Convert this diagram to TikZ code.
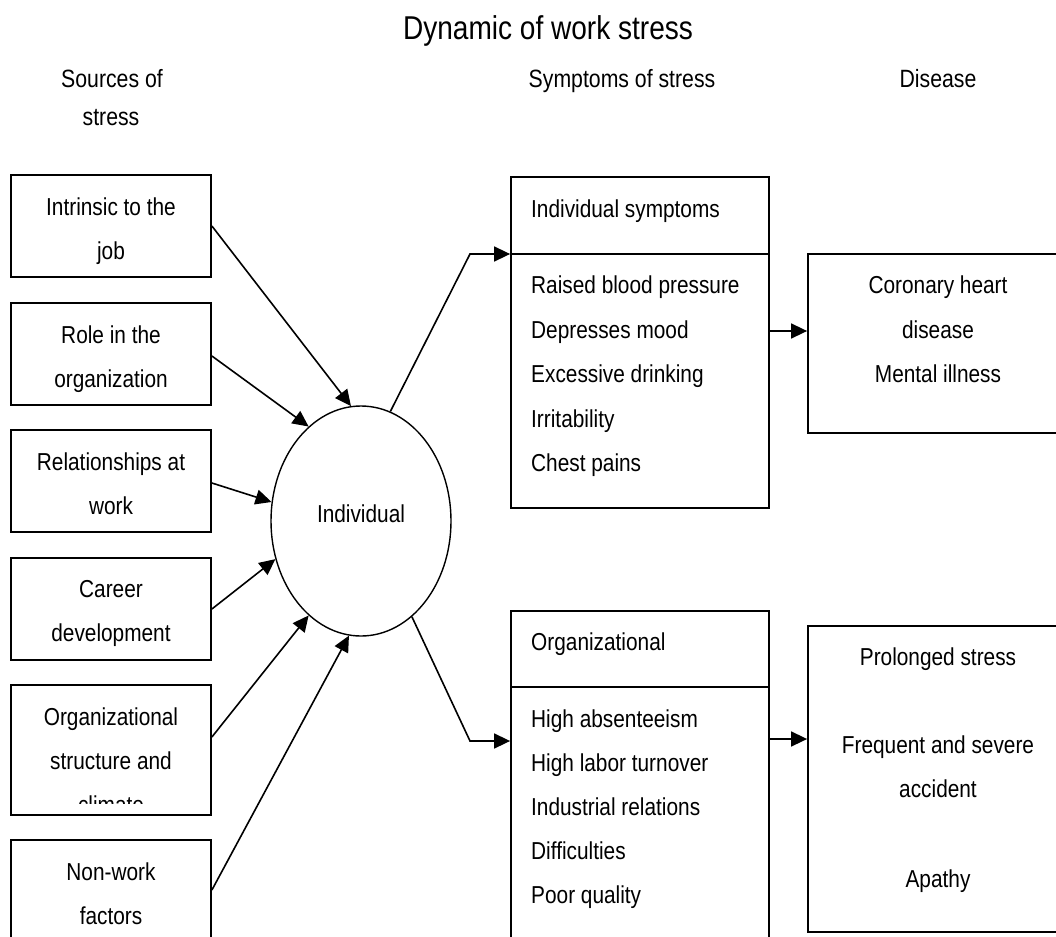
\documentclass[tikz,border=0pt]{standalone}
\usepackage{fontspec}
\setmainfont{Liberation Sans}[FakeStretch=0.85]
\usetikzlibrary{shapes.geometric,arrows.meta}
\begin{document}
\begin{tikzpicture}[x=1pt,y=-1pt,
  box/.style={draw,line width=1.8pt,inner sep=0pt},
  t/.style={inner sep=0pt,anchor=base,font=\fontsize{24.5}{30}\selectfont},
  tl/.style={t,anchor=base west},
  hd/.style={inner sep=0pt,anchor=base,font=\fontsize{25}{30}\selectfont},
  arr/.style={line width=1.6pt,-{Triangle[length=16pt,width=15pt]}},
  ln/.style={line width=1.8pt}]
\useasboundingbox (0,0) rectangle (1056,936);

% titles
\node[inner sep=0pt,anchor=base,font=\fontsize{33}{40}\selectfont] (title) at (548,40) {Dynamic of work stress};
\node[hd] (h1a) at (112,88) {Sources of};
\node[hd] (h1b) at (111,126) {stress};
\node[hd] (h2) at (622,88) {Symptoms of stress};
\node[hd] (h3) at (938,88) {Disease};

% source boxes
\node[box,minimum width=200pt,minimum height=102pt] (b1) at (111,226) {};
\node[box,minimum width=200pt,minimum height=102pt] (b2) at (111,354) {};
\node[box,minimum width=200pt,minimum height=102pt] (b3) at (111,481) {};
\node[box,minimum width=200pt,minimum height=102pt] (b4) at (111,609) {};
\node[box,minimum width=200pt,minimum height=130pt] (b5) at (111,750) {};
\node[box,minimum width=200pt,minimum height=100pt] (b6) at (111,890) {};

\node[t] (b1a) at (111,215) {Intrinsic to the};
\node[t] (b1b) at (111,259) {job};
\node[t] (b2a) at (111,343) {Role in the};
\node[t] (b2b) at (111,387) {organization};
\node[t] (b3a) at (111,470) {Relationships at};
\node[t] (b3b) at (111,514) {work};
\node[t] (b4a) at (111,597) {Career};
\node[t] (b4b) at (111,641) {development};
\node[t] (b5a) at (111,725) {Organizational};
\node[t] (b5b) at (111,769) {structure and};
\begin{scope}
  \clip (12,686) rectangle (210,803);
  \node[t] (b5c) at (111,813) {climate};
\end{scope}
\node[t] (b6a) at (111,880) {Non-work};
\node[t] (b6b) at (111,924) {factors};

% ellipse
\node[draw,ellipse,line width=1.4pt,minimum width=180pt,minimum height=230pt,inner sep=0pt] (ell) at (361,521) {};
\node[t] (ellt) at (361,522) {Individual};

\draw[arr] (b1.east) -- (ell.95.5);
\draw[arr] ([yshift=-2pt]b2.east) -- (ell.119.8);
\draw[arr] ([yshift=-2pt]b3.east) -- (ell.168.7);
\draw[arr] (b4.east) -- (ell.204);
\draw[arr] ([yshift=13pt]b5.east) -- (ell.241.2);
\draw[arr] (b6.east) -- (ell.264.5);

% symptom boxes
\node[box,minimum width=258pt,minimum height=331pt] (sym1) at (640,342.5) {};
\node[box,minimum width=258pt,minimum height=349pt] (sym2) at (640,785.5) {};
\coordinate (d1) at (0,254);
\coordinate (d2) at (0,687);
\draw[ln] (sym1.west |- d1) -- (sym1.east |- d1);
\draw[ln] (sym2.west |- d2) -- (sym2.east |- d2);

\node[tl] (s1h) at (531,217) {Individual symptoms};
\node[tl] (s1a) at (531,293) {Raised blood pressure};
\node[tl] (s1b) at (531,338) {Depresses mood};
\node[tl] (s1c) at (531,382) {Excessive drinking};
\node[tl] (s1d) at (531,427) {Irritability};
\node[tl] (s1e) at (531,471) {Chest pains};

\node[tl] (s2h) at (531,650) {Organizational};
\node[tl] (s2a) at (531,727) {High absenteeism};
\node[tl] (s2b) at (531,771) {High labor turnover};
\node[tl] (s2c) at (531,815) {Industrial relations};
\node[tl] (s2d) at (531,859) {Difficulties};
\node[tl] (s2e) at (531,903) {Poor quality};

% disease boxes
\node[box,minimum width=262pt,minimum height=179pt] (dis1) at (939,343.5) {};
\node[box,minimum width=262pt,minimum height=306pt] (dis2) at (939,779) {};

\node[t] (d1a) at (938,293) {Coronary heart};
\node[t] (d1b) at (938,338) {disease};
\node[t] (d1c) at (938,382) {Mental illness};

\node[t] (d2a) at (938,665) {Prolonged stress};
\node[t] (d2b) at (938,753) {Frequent and severe};
\node[t] (d2c) at (938,797) {accident};
\node[t] (d2d) at (938,887) {Apathy};

% connectors
\coordinate (k1) at (470,254);
\coordinate (k2) at (470,741);
\draw[arr] (ell.75.6) -- (k1) -- (sym1.west |- k1);
\draw[arr] (ell.298) -- (k2) -- (sym2.west |- k2);
\coordinate (m1) at (0,331);
\coordinate (m2) at (0,739);
\draw[arr] (sym1.east |- m1) -- (dis1.west |- m1);
\draw[arr] (sym2.east |- m2) -- (dis2.west |- m2);
\end{tikzpicture}
\end{document}
